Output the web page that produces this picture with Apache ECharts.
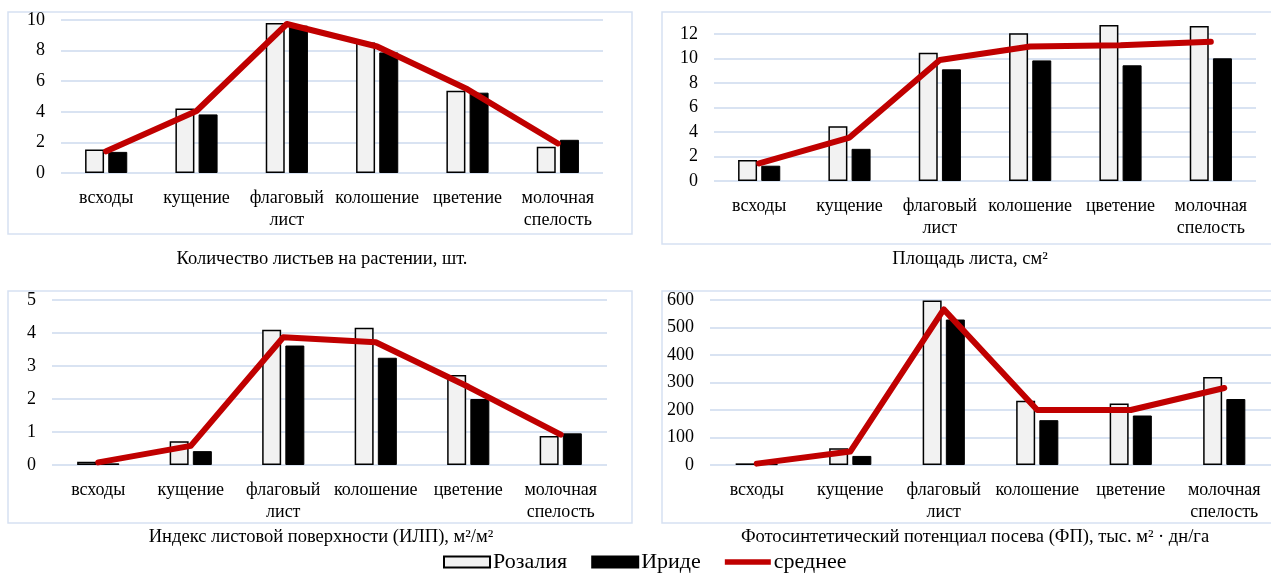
<!DOCTYPE html>
<html>
<head>
<meta charset="utf-8">
<script src="https://cdn.jsdelivr.net/npm/echarts@6/dist/echarts.min.js"></script>
<style>
html,body{margin:0;padding:0;background:#fff;}
#main{width:1271px;height:574px;}
</style>
</head>
<body>
<div id="main"></div>
<script>
const categories = ['всходы', 'кущение', 'флаговый\nлист', 'колошение', 'цветение', 'молочная\nспелость'];
const seriesNames = ['Розалия', 'Ириде', 'среднее'];

const leavesRozalia = [1.53, 4.22, 9.8, 8.53, 5.38, 1.71];
const leavesIride   = [1.38, 3.83, 9.63, 7.88, 5.25, 2.17];
const leavesMean    = [1.42, 4.05, 9.74, 8.27, 5.47, 1.93];

const areaRozalia = [1.71, 4.47, 10.49, 12.09, 12.76, 12.68];
const areaIride   = [1.25, 2.63, 9.13, 9.86, 9.46, 10.03];
const areaMean    = [1.44, 3.55, 9.9, 11.0, 11.1, 11.38];

const laiRozalia = [0.10, 0.72, 4.10, 4.16, 2.73, 0.88];
const laiIride   = [0.05, 0.42, 3.62, 3.25, 2.00, 0.96];
const laiMean    = [0.08, 0.58, 3.87, 3.72, 2.37, 0.92];

const fpRozalia = [6, 61, 598, 234, 224, 320];
const fpIride   = [3, 33, 529, 163, 180, 240];
const fpMean    = [5, 49, 566, 200, 200, 280];

const captions = [
  'Количество листьев на растении, шт.',
  'Площадь листа, см²',
  'Индекс листовой поверхности (ИЛП), м²/м²',
  'Фотосинтетический потенциал посева (ФП), тыс. м² · дн/га'
];

const panels = [
  {r: leavesRozalia, i: leavesIride, m: leavesMean, min: 0, max: 10, interval: 2, hideMax: false,
   grid: {left: 61, top: 20, width: 542, height: 153}, box: [8, 12, 624, 222], cap: [322, 259]},
  {r: areaRozalia, i: areaIride, m: areaMean, min: 0, max: 13, interval: 2, hideMax: true,
   grid: {left: 714, top: 22, width: 542, height: 159}, box: [662, 12, 610, 232], cap: [970, 259]},
  {r: laiRozalia, i: laiIride, m: laiMean, min: 0, max: 5, interval: 1, hideMax: false,
   grid: {left: 52, top: 300, width: 555, height: 165}, box: [8, 291, 624, 232], cap: [321, 537]},
  {r: fpRozalia, i: fpIride, m: fpMean, min: 0, max: 600, interval: 100, hideMax: false,
   grid: {left: 710, top: 300, width: 561, height: 165}, box: [662, 291, 610, 232], cap: [975, 537]}
];

const FONT = '"Liberation Serif", "Times New Roman", serif';
const grids = [], xAxes = [], yAxes = [], series = [], graphics = [];

panels.forEach((p, k) => {
  grids.push(Object.assign({containLabel: false}, p.grid));
  xAxes.push({
    type: 'category', gridIndex: k, data: categories,
    axisLine: {show: false}, axisTick: {show: false},
    axisLabel: {interval: 0, margin: 14, color: '#000', fontFamily: FONT, fontSize: 18, lineHeight: 22}
  });
  yAxes.push({
    type: 'value', gridIndex: k, min: p.min, max: p.max, interval: p.interval,
    axisLine: {show: false}, axisTick: {show: false},
    axisLabel: {margin: 16, color: '#000', fontFamily: FONT, fontSize: 18, showMaxLabel: !p.hideMax},
    splitLine: {show: true, showMaxLine: !p.hideMax, lineStyle: {color: '#d9e3f2', width: 2}}
  });
  series.push({
    name: seriesNames[0], type: 'bar', xAxisIndex: k, yAxisIndex: k, data: p.r,
    barWidth: 19, barGap: '22%',
    itemStyle: {color: '#f2f2f2', borderColor: '#000', borderWidth: 1.5}
  });
  series.push({
    name: seriesNames[1], type: 'bar', xAxisIndex: k, yAxisIndex: k, data: p.i,
    barWidth: 19, barGap: '22%',
    itemStyle: {color: '#000', borderColor: '#000', borderWidth: 1}
  });
  series.push({
    name: seriesNames[2], type: 'line', xAxisIndex: k, yAxisIndex: k, data: p.m,
    symbol: 'none', z: 5,
    lineStyle: {color: '#c00000', width: 6, cap: 'round', join: 'round'},
    itemStyle: {color: '#c00000'}
  });
  graphics.push({
    type: 'rect', silent: true, z: -1,
    shape: {x: p.box[0], y: p.box[1], width: p.box[2], height: p.box[3]},
    style: {fill: 'none', stroke: '#d6e1f2', lineWidth: 1.5}
  });
  graphics.push({
    type: 'text', silent: true,
    x: p.cap[0], y: p.cap[1],
    style: {text: captions[k], align: 'center', verticalAlign: 'middle',
            font: '18.5px ' + FONT, fill: '#000'}
  });
});

const chart = echarts.init(document.getElementById('main'));
chart.setOption({
  animation: false,
  backgroundColor: '#fff',
  grid: grids,
  xAxis: xAxes,
  yAxis: yAxes,
  series: series,
  graphic: graphics,
  legend: {
    data: [
      {name: seriesNames[0], icon: 'rect', itemStyle: {color: '#f2f2f2', borderColor: '#000', borderWidth: 2}},
      {name: seriesNames[1], icon: 'rect'},
      {name: seriesNames[2], icon: 'path://M0,0 L50,0 L50,6 L0,6 Z', itemStyle: {color: '#c00000', borderWidth: 0}}
    ],
    left: 443, top: 551, padding: 0,
    itemWidth: 46, itemHeight: 11, itemGap: 24,
    textStyle: {fontFamily: FONT, fontSize: 22, color: '#000', padding: [0, 0, 0, -2]}
  }
});
</script>
</body>
</html>
